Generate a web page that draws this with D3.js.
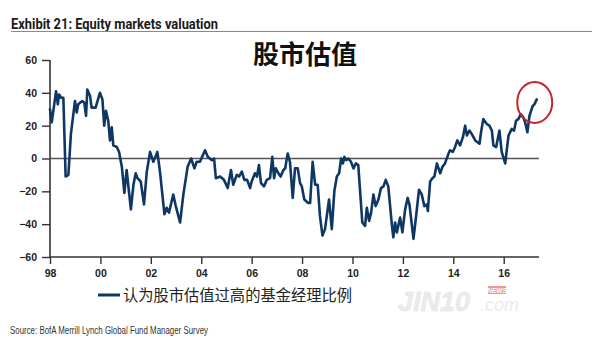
<!DOCTYPE html>
<html><head><meta charset="utf-8">
<script src="https://cdn.jsdelivr.net/npm/d3@7"></script>
<style>
html,body{margin:0;padding:0;background:#fff;}
svg{display:block;}
</style></head>
<body>
<svg id="c" width="600" height="343"></svg>
<script>
// ---- data ----
const years = [1998.00,1998.07,1998.24,1998.31,1998.36,1998.44,1998.53,1998.62,1998.73,1998.83,1998.99,
1999.06,1999.12,1999.28,1999.36,1999.43,1999.48,1999.59,1999.65,1999.81,1999.98,
2000.08,2000.15,2000.22,2000.31,2000.38,2000.45,2000.51,2000.65,2000.74,2000.85,2000.95,
2001.04,2001.21,2001.31,2001.40,2001.47,2001.60,2001.73,2001.84,2001.97,
2002.10,2002.26,2002.37,2002.54,2002.63,2002.72,2002.89,2002.99,
2003.16,2003.29,2003.46,2003.60,2003.73,2003.82,2003.95,
2004.15,2004.26,2004.42,2004.51,2004.58,2004.75,2004.90,
2005.05,2005.18,2005.27,2005.41,2005.50,2005.61,2005.71,2005.82,2005.94,
2006.00,2006.13,2006.21,2006.29,2006.37,2006.49,2006.60,2006.73,2006.82,2006.89,2006.96,
2007.06,2007.15,2007.26,2007.33,2007.43,2007.52,2007.63,2007.72,2007.83,2007.92,2007.99,
2008.09,2008.23,2008.32,2008.42,2008.52,2008.62,2008.71,2008.81,2008.91,
2009.07,2009.18,2009.28,2009.38,2009.47,2009.55,2009.62,2009.68,2009.75,2009.84,2009.94,
2010.04,2010.13,2010.23,2010.39,2010.50,2010.57,2010.66,2010.74,2010.83,2010.92,
2011.03,2011.13,2011.23,2011.32,2011.42,2011.56,2011.62,2011.69,2011.76,2011.89,2011.98,
2012.09,2012.19,2012.26,2012.42,2012.51,2012.64,2012.75,2012.85,2012.95,2012.99,
2013.08,2013.17,2013.25,2013.35,2013.48,2013.57,2013.67,2013.81,2013.87,2013.98,
2014.07,2014.16,2014.27,2014.38,2014.47,2014.54,2014.64,2014.73,2014.87,
2015.04,2015.10,2015.19,2015.33,2015.43,2015.53,2015.59,2015.70,2015.83,2015.92,
2016.06,2016.19,2016.32,2016.41,2016.49,2016.58,2016.68,2016.78,2016.85,2016.94,
2017.02,2017.15,2017.22,2017.31];
const overvaluedPct = [30,22,41,33,39,37,37,-11,-10,15,35,
28,33,35,34,26,42,38,31,31,40,
36,20,29,23,11,19,8,7,4,-5,-21,
-7,-31,-16,-9,-12,-14,-28,-8,4,
-2,4,-9,-34,-30,-33,-22,-29,
-39,-22,-5,0,-6,-2,-2,
5,1,-1,0,-12,-11,-13,
-18,-7,-16,-10,-11,-8,-13,-13,-18,
-14,-9,-11,-4,-15,-17,-13,-12,1,-12,-6,
-9,-11,-7,-6,3,-2,-24,-6,-6,-15,-17,
-25,-27,-27,-2,-16,-16,-35,-47,-43,
-25,-43,-20,-11,-9,0,-3,1,-1,0,-2,
-6,-3,-4,-39,-41,-30,-38,-33,-22,-29,
-25,-18,-17,-13,-17,-40,-48,-39,-45,-36,-45,
-31,-24,-28,-49,-37,-19,-22,-29,-28,-32,
-14,-12,-11,-3,-9,-5,-3,3,5,4,
7,11,8,13,20,14,17,15,11,
9,16,24,21,20,17,8,7,17,4,
-3,14,18,17,23,24,27,25,22,16,
26,32,33,36];
const yTicks = [60,40,20,0,-20,-40,-60];
const xTicks = [1998,2000,2002,2004,2006,2008,2010,2012,2014,2016];
const exhibitTitle = "Exhibit 21: Equity markets valuation";
const bigTitle = "股市估值";
const seriesName = "认为股市估值过高的基金经理比例";
const sourceText = "Source: BofA Merrill Lynch Global Fund Manager Survey";

// ---- drawing ----
const svg = d3.select("#c");
const navy = "#0f3764";
const x = d3.scaleLinear().domain([1998, 2017.4]).range([50, 539]);
const y = d3.scaleLinear().domain([-60, 60]).range([257, 60]);

// header
svg.append("text").attr("x",11).attr("y",28.5)
  .attr("font-family","'Liberation Sans Narrow','Roboto','Liberation Sans',sans-serif")
  .attr("font-weight","bold").attr("font-size",14).attr("fill","#1a1a1a")
  .attr("textLength",207).attr("lengthAdjust","spacingAndGlyphs")
  .text(exhibitTitle);
svg.append("line").attr("x1",11).attr("x2",592).attr("y1",31.5).attr("y2",31.5)
  .attr("stroke","#8a8a8a").attr("stroke-width",1);

svg.append("text").attr("x",305).attr("y",64).attr("text-anchor","middle")
  .attr("font-family","'Noto Sans CJK SC',sans-serif").attr("font-weight","bold")
  .attr("font-size",26).attr("fill","#111").text(bigTitle);

// axes
const yAxis = d3.axisLeft(y).tickValues(yTicks).tickSize(8).tickPadding(5).tickFormat(d3.format("d"));
const gy = svg.append("g").attr("transform","translate(50,0)").call(yAxis);
const xAxis = d3.axisBottom(x).tickValues(xTicks).tickSize(7).tickPadding(6)
  .tickFormat(d => String(d % 100).padStart(2,"0"));
const gx = svg.append("g").attr("transform","translate(0,257)").call(xAxis);
[gy,gx].forEach(g=>{
  g.select(".domain").attr("stroke","#333").attr("stroke-width",1.6);
  g.selectAll(".tick line").attr("stroke","#333").attr("stroke-width",1.4);
  g.selectAll(".tick text").attr("fill","#222").attr("font-size",10.5)
    .attr("font-weight","bold").attr("font-family","'Liberation Sans','Arial',sans-serif");
});
gy.select(".domain").attr("d","M0,"+y(60)+"V"+y(-60));
gx.select(".domain").attr("d","M"+x(1998)+",0H"+x.range()[1]);

// zero line
svg.append("line").attr("x1",x(1998)).attr("x2",x.range()[1])
  .attr("y1",y(0)).attr("y2",y(0)).attr("stroke","#555").attr("stroke-width",1.3);

// series line
const pts = years.map((t,i)=>[t, overvaluedPct[i]]);
svg.append("path").datum(pts)
  .attr("d", d3.line().x(d=>x(d[0])).y(d=>y(d[1])))
  .attr("fill","none").attr("stroke",navy).attr("stroke-width",2.6)
  .attr("stroke-linejoin","round").attr("stroke-linecap","round");

// highlight circle around latest value
const last = pts[pts.length-1];
svg.append("ellipse").attr("cx",x(last[0])-2).attr("cy",y(last[1])+3)
  .attr("rx",17.5).attr("ry",20.5).attr("fill","none")
  .attr("stroke","#c3262e").attr("stroke-width",2);

// legend
svg.append("line").attr("x1",98).attr("x2",120).attr("y1",295).attr("y2",295)
  .attr("stroke",navy).attr("stroke-width",3);
svg.append("text").attr("x",123).attr("y",301)
  .attr("font-family","'Noto Sans CJK SC',sans-serif").attr("font-size",15.5)
  .attr("fill","#222").attr("textLength",229).attr("lengthAdjust","spacingAndGlyphs")
  .text(seriesName);

// watermark
const wm = svg.append("g").attr("opacity",0.5);
wm.append("text").attr("x",398).attr("y",311).attr("font-family","'Liberation Sans',sans-serif")
  .attr("font-style","italic").attr("font-weight","bold").attr("font-size",27)
  .attr("fill","#d8d8d8").attr("stroke","#c8c8c8").attr("stroke-width",0.5).text("JIN10");
wm.append("text").attr("x",480).attr("y",311).attr("font-family","'Liberation Sans',sans-serif")
  .attr("font-style","italic").attr("font-size",18).attr("fill","#d8d8d8").text(".com");
svg.append("rect").attr("x",488).attr("y",286).attr("width",18).attr("height",8)
  .attr("fill","#e59a95");
svg.append("text").attr("x",497).attr("y",292.5).attr("text-anchor","middle")
  .attr("font-family","'Liberation Sans',sans-serif").attr("font-style","italic")
  .attr("font-weight","bold").attr("font-size",6.5).attr("fill","#fff").text("NEWS");

// source
svg.append("text").attr("x",10).attr("y",334)
  .attr("font-family","'Liberation Sans Narrow','Liberation Sans',sans-serif")
  .attr("font-size",10).attr("fill","#333")
  .attr("textLength",198).attr("lengthAdjust","spacingAndGlyphs")
  .text(sourceText);
</script>
</body></html>
